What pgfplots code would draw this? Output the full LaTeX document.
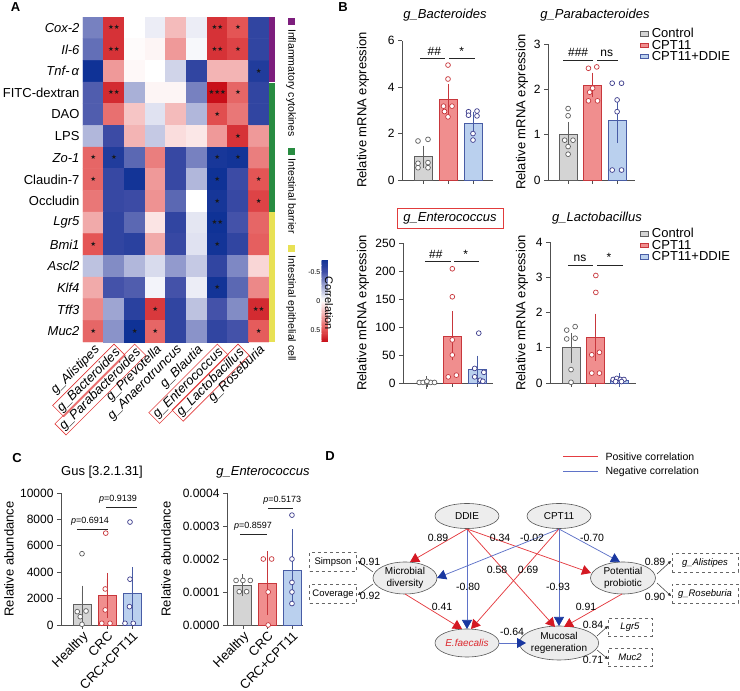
\documentclass[border=0pt]{standalone}
\usepackage{fontspec}
\setmainfont{Liberation Sans}
\newfontfamily\djv{DejaVu Sans}
\usepackage{pgfplots}
\pgfplotsset{compat=1.18}
\usetikzlibrary{arrows.meta,shapes.geometric}
\newcommand\fs[1]{\fontsize{#1}{#1}\selectfont}
\definecolor{ctrlF}{RGB}{212,212,212}
\definecolor{ctrlD}{RGB}{95,95,95}
\definecolor{cptF}{RGB}{240,142,142}
\definecolor{cptD}{RGB}{200,55,60}
\definecolor{ddF}{RGB}{186,208,238}
\definecolor{ddD}{RGB}{72,92,165}
\definecolor{ddP}{RGB}{60,60,140}
\definecolor{axg}{RGB}{80,80,80}
\definecolor{boxred}{RGB}{225,60,60}
\definecolor{catP}{RGB}{125,30,125}
\definecolor{catG}{RGB}{40,140,65}
\definecolor{catY}{RGB}{232,225,85}
\definecolor{posL}{RGB}{228,60,65}
\definecolor{posH}{RGB}{212,25,35}
\definecolor{negL}{RGB}{95,115,200}
\definecolor{negH}{RGB}{25,55,160}
\definecolor{efred}{RGB}{220,40,45}
\newcommand\rb[1]{{\color{boxred}\setlength\fboxsep{1.5pt}\setlength\fboxrule{0.6pt}\fbox{\color{black}\textit{#1}}}}
\pgfplotsset{
 every axis/.append style={font=\fs{12}, /pgf/number format/assume math mode=true},
 colormap={corr}{rgb255=(15,50,150) rgb255=(37,62,157) rgb255=(60,75,165) rgb255=(99,111,183) rgb255=(138,147,201) rgb255=(177,183,219) rgb255=(216,219,237) rgb255=(255,255,255) rgb255=(250,221,221) rgb255=(244,187,187) rgb255=(239,153,153) rgb255=(233,119,119) rgb255=(228,85,85) rgb255=(214,50,55) rgb255=(200,15,25)},
 barax/.style={scale only axis, anchor=south west, axis x line*=bottom, axis y line*=left,
   axis line style={draw=axg, line width=0.8pt}, every tick/.style={draw=axg, line width=0.8pt},
   tick align=outside, major tick length=4pt, xtick={1,2,3}, xticklabels={,,}, ymin=0,
   yticklabel style={font=\fs{12}}, clip=false},
 bbar/.style 2 args={ybar, bar width=18pt, bar shift=0pt, fill=#1, draw=#2, line width=0.9pt,
   error bars/.cd, y dir=both, y explicit, error bar style={draw=#2, line width=0.9pt},
   error mark options={draw=#2, mark size=6pt, line width=0.9pt}},
 bpts/.style={only marks, mark=*, mark size=2.4pt, mark options={draw=#1, fill=white, line width=0.7pt}},
 sig/.style={draw=black!85, line width=0.7pt},
}
\tikzset{
 ell/.style={ellipse, draw=black!65, fill=black!7, line width=0.6pt, inner sep=0pt, align=center, font=\fontsize{10}{11.5}\selectfont},
 parr/.style={draw=posL, line width=0.75pt, -{Triangle[length=9pt,width=10pt,color=posH]}},
 narr/.style={draw=negL, line width=0.75pt, -{Triangle[length=9pt,width=10pt,color=negH]}},
 smarr/.style={draw=black!80, line width=0.5pt, -{Triangle[length=3pt,width=3pt]}},
 dbox/.style={draw=black!60, dashed, line width=0.6pt, minimum height=19pt, inner sep=1pt, font=\fontsize{9.5}{11}\selectfont},
 coef/.style={font=\fontsize{10.5}{12}\selectfont, inner sep=0.5pt},
}
\begin{document}
\begin{tikzpicture}
\useasboundingbox (0pt,0pt) rectangle (740pt,691pt);

% ---------------- Panel A heatmap ----------------
\begin{axis}[at={(83pt,349pt)}, anchor=south west, scale only axis,
 width=186pt, height=325pt,
 xmin=-0.5, xmax=8.5, ymin=-0.5, ymax=14.5, y dir=reverse,
 axis line style={draw=none}, major tick length=0pt,
 xtick={0,...,8}, ytick={0,...,14},
 yticklabels={\textit{Cox-2},\textit{Il-6},\textit{Tnf-\,α},FITC-dextran,DAO,LPS,\textit{Zo-1},Claudin-7,Occludin,\textit{Lgr5},\textit{Bmi1},\textit{Ascl2},\textit{Klf4},\textit{Tff3},\textit{Muc2}},
 xticklabels={\textit{g\_Alistipes},\rb{g\_Bacteroides},\rb{g\_Parabacteroides},\textit{g\_Prevotella},\textit{g\_Anaerotruncus},\textit{g\_Blautia},\rb{g\_Enterococcus},\rb{g\_Lactobacillus},\textit{g\_Roseburia}},
 yticklabel style={font=\fs{13}},
 xticklabel style={rotate=45, anchor=north east, font=\fs{13}, inner sep=1pt},
 colormap name=corr, point meta min=-0.7, point meta max=0.7,
 colorbar sampled,
 colorbar style={at={(parent axis.south east)}, anchor=south west, xshift=44pt, samples=71,
   width=7pt, height=82pt, y dir=reverse, ytick={-0.5,0,0.5}, yticklabel pos=left,
   major tick length=0pt, axis line style={draw=none}, scaled y ticks=false,
   yticklabel style={font=\fs{7}, inner sep=1pt}},
]
\addplot[matrix plot*, mesh/cols=9, point meta=explicit] table[meta=c] {
x y c
0 0 -0.35
1 0 0.6
2 0 0.0
3 0 -0.05
4 0 0.2
5 0 -0.05
6 0 0.6
7 0 0.5
8 0 -0.55
0 1 -0.4
1 1 0.6
2 1 0.01
3 1 0.03
4 1 0.3
5 1 -0.02
6 1 0.6
7 1 0.55
8 1 -0.55
0 2 -0.7
1 2 0.3
2 2 0.02
3 2 0.0
4 2 -0.12
5 2 -0.55
6 2 0.22
7 2 0.22
8 2 -0.62
0 3 -0.45
1 3 0.62
2 3 -0.22
3 3 0.03
4 3 0.03
5 3 -0.35
6 3 0.7
7 3 0.45
8 3 -0.55
0 4 -0.45
1 4 0.42
2 4 0.17
3 4 -0.08
4 4 0.2
5 4 -0.2
6 4 0.52
7 4 0.4
8 4 -0.55
0 5 -0.2
1 5 -0.5
2 5 0.22
3 5 -0.15
4 5 0.1
5 5 0.07
6 5 0.3
7 5 0.6
8 5 0.3
0 6 0.45
1 6 -0.62
2 6 -0.42
3 6 0.38
4 6 -0.52
5 6 -0.35
6 6 -0.66
7 6 -0.68
8 6 0.38
0 7 0.45
1 7 -0.52
2 7 -0.68
3 7 0.3
4 7 -0.52
5 7 -0.2
6 7 -0.7
7 7 -0.5
8 7 0.5
0 8 0.4
1 8 -0.52
2 8 -0.5
3 8 0.32
4 8 -0.42
5 8 0.0
6 8 -0.67
7 8 -0.52
8 8 0.55
0 9 0.25
1 9 -0.55
2 9 -0.42
3 9 0.08
4 9 -0.55
5 9 -0.07
6 9 -0.72
7 9 -0.48
8 9 0.45
0 10 0.5
1 10 -0.55
2 10 -0.58
3 10 0.25
4 10 -0.52
5 10 -0.08
6 10 -0.68
7 10 -0.55
8 10 0.47
0 11 -0.17
1 11 -0.32
2 11 -0.2
3 11 -0.1
4 11 -0.28
5 11 -0.15
6 11 -0.55
7 11 -0.33
8 11 0.12
0 12 0.25
1 12 -0.48
2 12 -0.45
3 12 -0.03
4 12 -0.48
5 12 -0.05
6 12 -0.68
7 12 -0.42
8 12 0.35
0 13 0.35
1 13 -0.25
2 13 -0.58
3 13 0.58
4 13 -0.55
5 13 -0.17
6 13 -0.48
7 13 -0.32
8 13 0.62
0 14 0.45
1 14 -0.3
2 14 -0.72
3 14 0.45
4 14 -0.55
5 14 -0.3
6 14 -0.55
7 14 -0.48
8 14 0.48
};
\addplot[draw=none, nodes near coords, point meta=explicit symbolic,
  nodes near coords align=center,
  every node near coord/.append style={font=\djv\fontsize{6.5}{7}\selectfont, text=black!90, yshift=0.3pt, inner sep=0pt}] table[meta=s] {
x y s
1 0 ★★
6 0 ★★
7 0 ★
1 1 ★★
6 1 ★★
7 1 ★
8 2 ★
1 3 ★★
6 3 ★★★
7 3 ★
6 4 ★
7 5 ★
0 6 ★
1 6 ★
6 6 ★
7 6 ★
0 7 ★
6 7 ★
8 7 ★
6 8 ★
8 8 ★
6 9 ★★
0 10 ★
6 10 ★
6 12 ★
3 13 ★
8 13 ★★
0 14 ★
2 14 ★
3 14 ★
8 14 ★
};
\end{axis}

% ---------------- Panel B ----------------
\begin{axis}[barax, at={(402pt,511pt)}, width=91pt, height=139.3pt, xmin=0.16, xmax=3.8, ymax=6, ytick={0,2,4,6}]
\addplot[bbar={ctrlF}{ctrlD}] coordinates {(1,1.0) +- (0,0.22)};
\addplot[bbar={cptF}{cptD}] coordinates {(2,3.45) +- (0,0.42)};
\addplot[bbar={ddF}{ddD}] coordinates {(3,2.42) +- (0,0.27)};
\addplot[bpts=ctrlD] coordinates {(0.8,1.68) (1.2,1.75) (0.8,0.72) (1.2,0.75) (0.8,0.53) (1.2,0.53)};
\addplot[bpts=cptD] coordinates {(2.0,4.95) (2.0,4.35) (1.82,3.18) (2.16,3.18) (1.86,2.95) (2.0,2.72)};
\addplot[bpts=ddP] coordinates {(2.82,2.94) (3.16,2.97) (2.82,2.79) (3.16,2.76) (3.0,2.0) (3.0,1.72)};
\addplot[sig] coordinates {(0.88,5.25) (1.88,5.25)};
\addplot[sig] coordinates {(2.05,5.25) (3.08,5.25)};
\node[font=\fs{12}, anchor=south, inner sep=1pt] at (axis cs:1.45,5.3) {\#\#};
\node[font=\fs{12}, anchor=south, inner sep=1pt] at (axis cs:2.55,5.3) {*};
\end{axis}

\begin{axis}[barax, at={(548pt,511pt)}, width=87pt, height=135.7pt, xmin=0.18, xmax=3.73, ymax=3, ytick={0,1,2,3},
  legend image code/.code={\draw[#1, line width=0.6pt] (0pt,-2.3pt) rectangle (8pt,2.3pt);},
  legend style={at={(1.02,1.135)}, anchor=north west, draw=none, fill=none, font=\fs{13},
    nodes={inner sep=0.3pt}, column sep=3pt, row sep=0pt}, legend cell align=left]
\addplot[forget plot, bbar={ctrlF}{ctrlD}] coordinates {(1,1.0) +- (0,0.15)};
\addplot[forget plot, bbar={cptF}{cptD}] coordinates {(2,2.1) +- (0,0.14)};
\addplot[forget plot, bbar={ddF}{ddD}] coordinates {(3,1.32) +- (0,0.37)};
\addplot[forget plot, bpts=ctrlD] coordinates {(1.0,1.58) (1.0,1.42) (0.86,0.88) (1.2,0.88) (1.0,0.74) (1.0,0.57)};
\addplot[forget plot, bpts=cptD] coordinates {(1.83,2.47) (2.17,2.5) (2.0,2.03) (1.88,1.94) (1.83,1.75) (2.2,1.75)};
\addplot[forget plot, bpts=ddP] coordinates {(2.8,2.14) (3.18,2.14) (3.0,1.77) (3.0,1.51) (2.8,0.22) (3.18,0.22)};
\addplot[forget plot, sig] coordinates {(0.8,2.65) (2.0,2.65)};
\addplot[forget plot, sig] coordinates {(2.18,2.65) (3.04,2.65)};
\node[font=\fs{12}, anchor=south, inner sep=1pt] at (axis cs:1.41,2.7) {\#\#\#};
\node[font=\fs{12}, anchor=south, inner sep=1pt] at (axis cs:2.58,2.7) {ns};
\addlegendimage{fill=ctrlF, draw=ctrlD}\addlegendentry{Control}
\addlegendimage{fill=cptF, draw=cptD}\addlegendentry{CPT11}
\addlegendimage{fill=ddF, draw=ddD}\addlegendentry{CPT11+DDIE}
\end{axis}

\begin{axis}[barax, at={(403pt,308pt)}, width=90pt, height=140pt, xmin=0.06, xmax=3.6, ymax=250, ytick={0,50,...,250}]
\addplot[bbar={ctrlF}{ctrlD}] coordinates {(1,1.0) +- (0,0.3)};
\addplot[bbar={cptF}{cptD}] coordinates {(2,84) +- (0,33)};
\addplot[bbar={ddF}{ddD}] coordinates {(3,24) +- (0,14)};
\addplot[bpts=ctrlD] coordinates {(0.7,1) (0.85,1) (1.0,1) (1.15,1) (1.3,1) (1.0,3)};
\addplot[bpts=cptD] coordinates {(2.0,204) (2.0,154) (2.0,77) (2.0,50) (1.84,11) (2.16,14)};
\addplot[bpts=ddP] coordinates {(3.04,89) (2.88,26) (3.24,19) (2.88,11) (3.1,5) (3.2,3)};
\addplot[sig] coordinates {(0.92,216.6) (1.93,216.6)};
\addplot[sig] coordinates {(2.06,216.6) (3.06,216.6)};
\node[font=\fs{12}, anchor=south, inner sep=1pt] at (axis cs:1.35,220) {\#\#};
\node[font=\fs{12}, anchor=south, inner sep=1pt] at (axis cs:2.53,220) {*};
\end{axis}

\begin{axis}[barax, at={(550pt,308pt)}, width=86pt, height=141pt, xmin=0.125, xmax=3.7, ymax=4, ytick={0,1,2,3,4},
  legend image code/.code={\draw[#1, line width=0.6pt] (0pt,-2.3pt) rectangle (8pt,2.3pt);},
  legend style={at={(1.01,1.113)}, anchor=north west, draw=none, fill=none, font=\fs{13},
    nodes={inner sep=0.3pt}, column sep=3pt, row sep=0pt}, legend cell align=left]
\addplot[forget plot, bbar={ctrlF}{ctrlD}] coordinates {(1,1.0) +- (0,0.25)};
\addplot[forget plot, bbar={cptF}{cptD}] coordinates {(2,1.3) +- (0,0.5)};
\addplot[forget plot, bbar={ddF}{ddD}] coordinates {(3,0.08) +- (0,0.02)};
\addplot[forget plot, bpts=ctrlD] coordinates {(0.82,1.5) (1.17,1.6) (0.82,1.25) (1.17,1.27) (1.0,0.38) (1.0,0.02)};
\addplot[forget plot, bpts=cptD] coordinates {(2.03,3.05) (2.03,2.57) (1.86,0.8) (2.18,0.87) (1.86,0.28) (2.18,0.28)};
\addplot[forget plot, bpts=ddP] coordinates {(2.75,0.1) (2.9,0.13) (3.05,0.1) (3.2,0.1) (2.85,0.04) (3.1,0.04)};
\addplot[forget plot, sig] coordinates {(0.875,3.33) (1.92,3.33)};
\addplot[forget plot, sig] coordinates {(2.08,3.33) (3.17,3.33)};
\node[font=\fs{12}, anchor=south, inner sep=1pt] at (axis cs:1.37,3.4) {ns};
\node[font=\fs{12}, anchor=south, inner sep=1pt] at (axis cs:2.58,3.4) {*};
\addlegendimage{fill=ctrlF, draw=ctrlD}\addlegendentry{Control}
\addlegendimage{fill=cptF, draw=cptD}\addlegendentry{CPT11}
\addlegendimage{fill=ddF, draw=ddD}\addlegendentry{CPT11+DDIE}
\end{axis}

% ---------------- Panel C ----------------
\begin{axis}[barax, at={(61pt,66pt)}, width=81pt, height=132pt, xmin=0.16, xmax=3.4, ymax=10000,
  ytick={0,2000,...,10000}, scaled y ticks=false, yticklabel style={/pgf/number format/1000 sep={}},
  xticklabels={Healthy,CRC,CRC+CPT11}, xticklabel style={rotate=45, anchor=north east, font=\fs{13}, inner sep=1pt}]
\addplot[bbar={ctrlF}{ctrlD}] coordinates {(1,1520) +- (0,1010)};
\addplot[bbar={cptF}{cptD}] coordinates {(2,2230) +- (0,1260)};
\addplot[bbar={ddF}{ddD}] coordinates {(3,2370) +- (0,1540)};
\addplot[bpts=ctrlD] coordinates {(1.0,5400) (0.81,1010) (1.16,1060) (0.93,630) (1.0,50)};
\addplot[bpts=cptD] coordinates {(1.95,6960) (1.93,2730) (1.93,1140) (1.79,130) (2.12,130)};
\addplot[bpts=ddP] coordinates {(2.92,7800) (2.92,3470) (2.9,1390) (2.72,130) (3.05,130)};
\addplot[sig] coordinates {(0.8,7270) (2.04,7270)};
\addplot[sig] coordinates {(1.96,8920) (3.2,8920)};
\node[font=\fs{9}, anchor=south, inner sep=1pt] at (axis cs:1.32,7450) {\textit{p}=0.6914};
\node[font=\fs{9}, anchor=south, inner sep=1pt] at (axis cs:2.44,9100) {\textit{p}=0.9139};
\end{axis}

\begin{axis}[barax, at={(227pt,66pt)}, width=76pt, height=132pt, xmin=0.35, xmax=3.45, ymax=0.0004,
  ytick={0,0.0001,0.0002,0.0003,0.0004}, scaled y ticks=false,
  yticklabel style={/pgf/number format/.cd, fixed, fixed zerofill, precision=4},
  xticklabels={Healthy,CRC,CRC+CPT11}, xticklabel style={rotate=45, anchor=north east, font=\fs{13}, inner sep=1pt}]
\addplot[bbar={ctrlF}{ctrlD}] coordinates {(1,0.000119) += (0,0.000017) -= (0,0.000013)};
\addplot[bbar={cptF}{cptD}] coordinates {(2,0.000125) += (0,0.000081) -= (0,0.000077)};
\addplot[bbar={ddF}{ddD}] coordinates {(3,0.000164) += (0,0.000108) -= (0,0.000076)};
\addplot[bpts=ctrlD] coordinates {(0.72,0.000135) (1.0,0.000135) (1.3,0.000135) (0.85,0.000101) (1.15,0.000101)};
\addplot[bpts=cptD] coordinates {(1.83,0.0002) (2.17,0.0002) (2.03,0.0001) (2.03,0.0)};
\addplot[bpts=ddP] coordinates {(3.0,0.000333) (3.0,0.0002) (3.0,0.000129) (3.0,0.0001) (3.0,0.000065)};
\addplot[sig] coordinates {(0.88,0.000275) (1.98,0.000275)};
\addplot[sig] coordinates {(2.02,0.000354) (3.04,0.000354)};
\node[font=\fs{9}, anchor=south, inner sep=1pt] at (axis cs:1.41,0.000282) {\textit{p}=0.8597};
\node[font=\fs{9}, anchor=south, inner sep=1pt] at (axis cs:2.6,0.000361) {\textit{p}=0.5173};
\end{axis}

% ---------------- annotations (pixel coordinates, y downwards) ----------------
\begin{scope}[x=1pt, y=-1pt, shift={(0pt,691pt)}]
\node[font=\bfseries\fs{13}] at (15.5,7) {A};
\node[font=\bfseries\fs{13}] at (343,7) {B};
\node[font=\bfseries\fs{13}] at (17,458) {C};
\node[font=\bfseries\fs{13}] at (330,456) {D};
\fill[catP] (269,17) rectangle (275,82);
\fill[catG] (269,83) rectangle (275,212);
\fill[catY] (269,212) rectangle (275,342);
\node[rotate=-90, anchor=west, font=\fs{10.5}, inner sep=0pt] at (291,18)
 {\textcolor{catP}{\rule{7pt}{7pt}}\hspace{4pt}Inflammatory cytokines\hspace{11pt}\textcolor{catG}{\rule{7pt}{7pt}}\hspace{4pt}Intestinal barrier\hspace{11pt}\textcolor{catY}{\rule{7pt}{7pt}}\hspace{4pt}Intestinal epithelial cell};
\node[rotate=-90, font=\fs{11}] at (329,303) {Correlation};
\node[font=\fs{13}] at (445,15) {\textit{g\_Bacteroides}};
\node[font=\fs{13}] at (595,15) {\textit{g\_Parabacteroides}};
\node[font=\fs{13}, draw=boxred, line width=0.6pt, minimum width=106pt, minimum height=20pt, inner sep=1pt] at (450,218) {\textit{g\_Enterococcus}};
\node[font=\fs{13}] at (597,218) {\textit{g\_Lactobacillus}};
\node[rotate=90, font=\fs{13}] at (363,110) {Relative mRNA expression};
\node[rotate=90, font=\fs{13}] at (522,112) {Relative mRNA expression};
\node[rotate=90, font=\fs{13}] at (363,313) {Relative mRNA expression};
\node[rotate=90, font=\fs{13}] at (522,313) {Relative mRNA expression};
\node[font=\fs{13}] at (102,472) {Gus [3.2.1.31]};
\node[font=\fs{13}] at (263,472) {\textit{g\_Enterococcus}};
\node[rotate=90, font=\fs{13}] at (9,559) {Relative abundance};
\node[rotate=90, font=\fs{13}] at (166,559) {Relative abundance};
\draw[posL, line width=1pt] (563,457) -- (598,457);
\node[anchor=west, font=\fs{10.5}] at (602,457) {Positive correlation};
\draw[negL, line width=1pt] (563,472) -- (598,472);
\node[anchor=west, font=\fs{10.5}] at (602,472) {Negative correlation};
\node[ell, minimum width=64pt, minimum height=25pt] (ddie) at (467,516) {DDIE};
\node[ell, minimum width=64pt, minimum height=25pt] (cpt) at (559,516) {CPT11};
\node[ell, minimum width=64pt, minimum height=32pt] (md) at (405,578) {Microbial\\diversity};
\node[ell, minimum width=65pt, minimum height=32pt] (pp) at (623,578) {Potential\\probiotic};
\node[ell, minimum width=64pt, minimum height=28pt] (ef) at (467,643) {\textcolor{efred}{\textit{E.faecalis}}};
\node[ell, minimum width=65pt, minimum height=34pt] (mr) at (559,643) {Mucosal\\regeneration};
\node[dbox, minimum width=66pt] at (705,563) {\textit{g\_Alistipes}};
\node[dbox, minimum width=66pt] at (705,594) {\textit{g\_Roseburia}};
\node[dbox, minimum width=44pt, minimum height=18pt] at (630,627) {\textit{Lgr5}};
\node[dbox, minimum width=44pt, minimum height=18pt] at (630,657) {\textit{Muc2}};
\node[dbox, minimum width=47pt] at (333,562) {Simpson};
\node[dbox, minimum width=47pt] at (333,594) {Coverage};
\draw[parr] (467,529) -- (410,562);
\draw[narr] (467,529) -- (467,629);
\draw[parr] (467,529) -- (555,627);
\draw[parr] (467,529) -- (591,573);
\draw[narr] (559,529) -- (437,578);
\draw[parr] (559,529) -- (471,629);
\draw[narr] (559,529) -- (559,626);
\draw[narr] (559,529) -- (620,562);
\draw[parr] (405,594) -- (462,629);
\draw[parr] (622,594) -- (564,627);
\draw[narr] (499,643) -- (526,643);
\draw[smarr] (657,574) -- (671,561);
\draw[smarr] (657,583) -- (671,596);
\draw[smarr] (597,636) -- (608,626);
\draw[smarr] (597,650) -- (608,659);
\draw[smarr] (373,572) -- (358,561);
\draw[smarr] (373,584) -- (358,595);
\node[coef] at (438,538) {0.89};
\node[coef] at (500,538) {0.34};
\node[coef] at (532,538) {-0.02};
\node[coef] at (592,538) {-0.70};
\node[coef] at (497,570) {0.58};
\node[coef] at (528,570) {0.69};
\node[coef] at (468,587) {-0.80};
\node[coef] at (558,587) {-0.93};
\node[coef] at (442,607) {0.41};
\node[coef] at (586,607) {0.91};
\node[coef] at (512,632) {-0.64};
\node[coef] at (655,562) {0.89};
\node[coef] at (655,597) {0.90};
\node[coef] at (593,625) {0.84};
\node[coef] at (593,660) {0.71};
\node[coef] at (370,562) {0.91};
\node[coef] at (370,596) {0.92};
\end{scope}
\end{tikzpicture}
\end{document}
